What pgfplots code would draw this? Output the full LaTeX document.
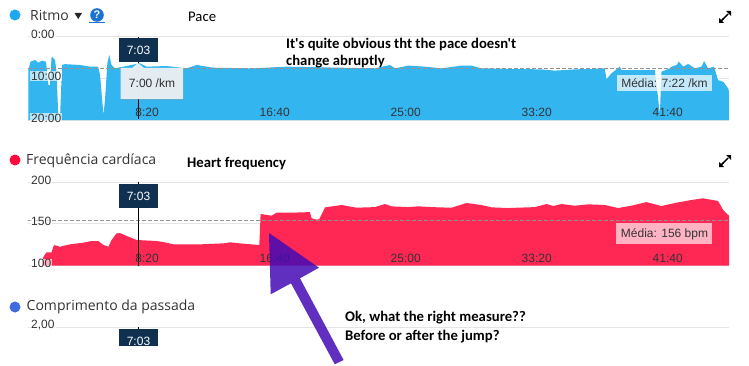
\documentclass[border=0pt]{standalone}
\usepackage{fontspec}
\setmainfont{Liberation Sans}
\newfontfamily\uifont{Open Sans}
\newfontfamily\notefont{Carlito}
\usepackage{pgfplots}
\pgfplotsset{compat=1.18}
\usetikzlibrary{shadows}
\definecolor{pacefill}{HTML}{33B5F0}
\definecolor{hrfill}{HTML}{FF2855}
\definecolor{boxnavy}{HTML}{10304F}
\definecolor{tickc}{HTML}{333333}
\definecolor{gridc}{HTML}{E4E4E4}
\definecolor{arrowc}{HTML}{440BB5}
\definecolor{helpc}{HTML}{1A73D0}
\definecolor{dotpace}{HTML}{1CA8EE}
\definecolor{dothr}{HTML}{FF0A3C}
\definecolor{dotlen}{HTML}{4169E1}
\definecolor{tipc}{HTML}{E8EFF3}
\pgfplotsset{
  panel/.style={
    scale only axis, width=701pt, xmin=0, xmax=2676,
    axis line style={draw=none}, tick style={draw=none},
  },
  gridded/.style={panel, ymajorgrids, grid style={gridc, line width=0.9pt},
    xtick=\empty, yticklabels={}},
  labelled/.style={panel,
    xtick={500,1000,1500,2000,2500},
    xticklabels={8:20,16:40,25:00,33:20,41:40},
    xticklabel style={font=\fontsize{12}{14}\selectfont, text=tickc, anchor=south east, yshift=0pt, inner xsep=0pt},
    yticklabel style={font=\fontsize{12}{14}\selectfont, text=tickc, anchor=west, xshift=2pt, yshift=2pt, inner xsep=1pt, inner ysep=0.5pt, fill=white, fill opacity=0.65, text opacity=1},
  },
  avgline/.style={draw=gray!85, line width=0.7pt, dash pattern=on 4pt off 2pt},
  cross/.style={draw=black, line width=0.9pt},
}
\begin{document}
\begin{tikzpicture}
\path[use as bounding box] (0,0) rectangle (749pt,365pt);

\begin{axis}[gridded, at={(28pt,245pt)}, anchor=south west, height=84pt,
  y dir=reverse, ymin=0, ymax=20, ytick={0,10,20}]
\addplot[fill=pacefill, draw=none] table {
1 20
1 8.1
10 6.1
27 5.7
39 6.35
52 5.9
69 6.1
78 11.7
84 11.7
90 4.9
103 5.7
109 8.5
116 20
122 20
130 6.9
141 6.7
198 6.9
237 7.3
268 7.3
275 9.3
288 18.8
294 15.2
303 6.5
310 4.5
319 6.9
332 7.7
427 6.5
453 7.3
529 7.15
606 7.7
644 6.9
707 7.55
860 7.7
987 7.3
1324 7.7
1382 6.9
1401 7.7
1452 7.05
1515 7.3
1579 7.7
1655 7.05
1693 7.05
1731 7.7
1960 7.95
2011 8.25
2088 7.95
2202 7.7
2208 10.3
2227 8.9
2240 8.25
2259 7.3
2266 8.1
2393 8.1
2406 15.2
2412 18.8
2418 8.5
2450 7.7
2457 7.3
2476 6.9
2485 6.1
2501 7.3
2520 6.65
2546 7.7
2571 7.3
2581 5.95
2596 7.7
2619 7.3
2634 10.5
2654 10.9
2673 12.5
2679 14
2679 20
};
\addplot[avgline] coordinates {(0,7.69) (2676,7.69)};
\addplot[cross] coordinates {(423,0.2) (423,19.8)};
\end{axis}
\begin{axis}[labelled, at={(28pt,245pt)}, anchor=south west, height=84pt,
  y dir=reverse, ymin=0, ymax=20, ytick={0,10,20}, yticklabels={0:00,10:00,20:00}]
\end{axis}

\begin{axis}[gridded, at={(28pt,99.3pt)}, anchor=south west, height=83.7pt,
  ymin=100, ymax=200, ytick={100,150,200}]
\addplot[fill=hrfill, draw=none] table {
52 100
59 110.8
71 116
90 116
99 124.7
122 122.7
160 125.5
211 127.5
243 129.5
268 129.5
288 124.7
307 122.7
319 130.7
338 138.6
351 139
383 134.7
415 130.7
491 129.5
529 127.5
555 125.5
656 125.5
746 126.7
771 127.9
822 126.3
883 124.7
888 161.8
911 160.6
930 159.8
949 163.3
1000 163.3
1076 164
1083 156.6
1102 155
1112 155.8
1134 169.7
1197 172.5
1254 169.3
1324 170
1363 173.7
1388 170.9
1452 170
1490 170.9
1566 169.7
1617 169.3
1674 174.9
1731 172.5
1770 169.7
1833 168.9
1935 170
1980 173.7
2005 171.3
2037 173.7
2088 171.7
2139 173.3
2202 172.5
2253 168.9
2304 171.7
2361 176
2418 171.3
2476 175.3
2533 178.5
2577 180.5
2634 177.3
2654 166.5
2673 160.6
2679 159.4
2679 100
};
\addplot[avgline] coordinates {(0,154.2) (2676,154.2)};
\addplot[cross] coordinates {(423,100) (423,200)};
\end{axis}
\begin{axis}[labelled, at={(28pt,99.3pt)}, anchor=south west, height=83.7pt,
  ymin=100, ymax=200, ytick={100,150,200}, yticklabels={100,150,200}]
\end{axis}

\begin{axis}[gridded, at={(28pt,19pt)}, anchor=south west, height=18.7pt,
  ymin=1.55, ymax=2, ytick={2}]
\addplot[cross] coordinates {(423,1.55) (423,2)};
\end{axis}
\begin{axis}[labelled, at={(28pt,19pt)}, anchor=south west, height=18.7pt,
  ymin=1.55, ymax=2, ytick={2}, yticklabels={{2{,}00}}, xtick=\empty]
\end{axis}

\begin{scope}[yshift=365pt, x=1pt, y=-1pt, font=\fontsize{12}{14}\selectfont]
  % panel headings
  \fill[dotpace] (15,15) circle (5.5);
  \node[anchor=west, inner sep=0, text=tickc, font=\uifont\fontsize{14}{16}\selectfont] at (30,15) {Ritmo};
  \fill[black!85] (74.5,13) -- (82,13) -- (78.2,19) -- cycle;
  \fill[helpc] (97,15) circle (6.8);
  \node[text=white, inner sep=0, font=\bfseries\fontsize{11}{12}\selectfont] at (97,15) {?};
  \draw[helpc, line width=0.8pt] (89,22.5) -- (105,22.5);
  \fill[dothr] (15,160) circle (5.5);
  \node[anchor=west, inner sep=0, text=tickc, font=\uifont\fontsize{14}{16}\selectfont] at (26,161) {Frequência cardíaca};
  \fill[dotlen] (15,307) circle (5.5);
  \node[anchor=west, inner sep=0, text=tickc, font=\uifont\fontsize{14}{16}\selectfont] at (26.5,307) {Comprimento da passada};
  % expand icons
  \foreach \yy in {17,161}{
    \begin{scope}[yshift=-\yy pt]
      \draw[black, line width=1.4pt] (722,3) -- (728,-3);
      \draw[black, line width=1.4pt] (720.5,4.5) -- (723.5,1.5);
      \fill[black] (719,6) -- (719,1) -- (724,6) -- cycle;
      \fill[black] (731,-6) -- (731,-1) -- (726,-6) -- cycle;
    \end{scope}
  }
  % crosshair time tags
  \fill[boxnavy] (119,38) rectangle (158,62);
  \node[text=white, inner sep=0] at (138.5,50.5) {7:03};
  \fill[boxnavy] (119,184) rectangle (158,207.7);
  \node[text=white, inner sep=0] at (138.5,196) {7:03};
  \begin{scope}
    \clip (100,320) rectangle (170,345.5);
    \fill[boxnavy] (119,329) rectangle (158,353);
    \node[text=white, inner sep=0] at (138.5,341) {7:03};
  \end{scope}
  % value tooltip
  \fill[tipc, fill opacity=0.97, drop shadow={opacity=0.35, shadow xshift=0.5pt, shadow yshift=-1pt}] (120.7,68) -- (132,68) -- (138,63) -- (144,68) -- (183,68) -- (183,99) -- (120.7,99) -- cycle;
  \node[text=tickc!90!black, inner sep=0] at (152,83.5) {7:00 /km};
  % averages
  \fill[white, fill opacity=0.7] (616.7,75) rectangle (712,91);
  \node[text=tickc, inner sep=0] at (664.5,83) {Média: 7:22 /km};
  \fill[white, fill opacity=0.65] (616,223) rectangle (712,244);
  \node[text=tickc, inner sep=0] at (664.5,234) {Média: 156 bpm};
  % added notes
  \begin{scope}[font=\notefont\fontsize{14.7}{16}\selectfont, text=black]
    \node[anchor=west, inner sep=0] at (188,16.5) {Pace};
    \node[anchor=west, inner sep=0, font=\notefont\bfseries\fontsize{14.7}{16}\selectfont] at (286,44) {It's quite obvious tht the pace doesn't};
    \node[anchor=west, inner sep=0, font=\notefont\bfseries\fontsize{14.7}{16}\selectfont] at (286,61.5) {change abruptly};
    \node[anchor=west, inner sep=0, font=\notefont\bfseries\fontsize{14.7}{16}\selectfont] at (187,163.5) {Heart frequency};
    \node[anchor=west, inner sep=0, font=\notefont\bfseries\fontsize{14.7}{16}\selectfont] at (345,318) {Ok, what the right measure??};
    \node[anchor=west, inner sep=0, font=\notefont\bfseries\fontsize{14.7}{16}\selectfont] at (345,337) {Before or after the jump?};
  \end{scope}
  % arrow
  \fill[arrowc, fill opacity=0.85] (269,233) -- (319,267.7) -- (300,278.3) -- (343.6,360) -- (334.8,364.3) -- (291,283.3) -- (270.7,294.3) -- cycle;
\end{scope}
\end{tikzpicture}
\end{document}
